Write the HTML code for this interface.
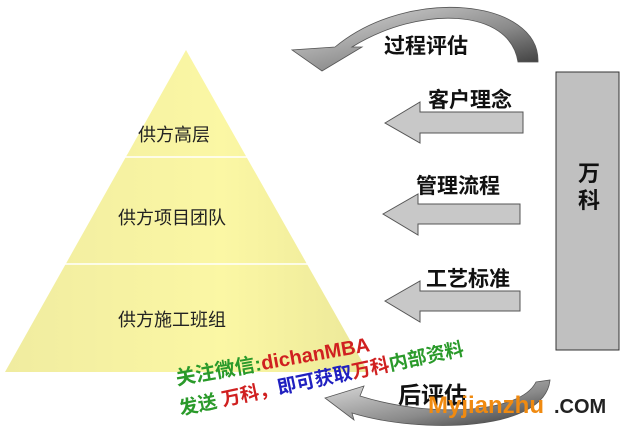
<!DOCTYPE html>
<html><head><meta charset="utf-8"><style>
body{margin:0;width:622px;height:428px;background:#fff;overflow:hidden;position:relative;font-family:"Liberation Sans","Noto Sans CJK SC",sans-serif}
.t{position:absolute;white-space:nowrap}
</style></head><body>
<svg width="622" height="428" style="position:absolute;left:0;top:0">
<defs>
<linearGradient id="py" x1="0" x2="1" y1="0" y2="0"><stop offset="0" stop-color="#f0eca0"/><stop offset="0.6" stop-color="#fbf7a4"/><stop offset="1" stop-color="#ece899"/></linearGradient>
<linearGradient id="ga" x1="0" x2="1" y1="0" y2="1"><stop offset="0" stop-color="#e0e0e0"/><stop offset="0.6" stop-color="#8a8a8a"/><stop offset="1" stop-color="#333"/></linearGradient>
</defs>
<polygon points="186,50 5,372 368,372" fill="url(#py)"/>
<line x1="125" y1="157" x2="247" y2="157" stroke="#fff" stroke-width="1.5"/>
<line x1="64" y1="264" x2="308" y2="264" stroke="#fff" stroke-width="1.5"/>
<rect x="556" y="72" width="63" height="278" fill="#c0c0c0" stroke="#333" stroke-width="1"/>
<g fill="#c8c8c8" stroke="#555" stroke-width="1">
<polygon points="385,123 420,102 420,112 523,112 523,133 420,133 420,143"/>
<polygon points="383,214 418,194 418,204 520,204 520,224 418,224 418,235"/>
<polygon points="385,301 420,281 420,291 520,291 520,311 420,311 420,322"/>
</g>
<path d="M538,62 C540,0 410,-15 335,47 L292,50 L322,71 L362,47 L352,47 C420,5 510,8 518,62 Z" fill="url(#ga)" stroke="#555" stroke-width="0.8"/>
<path d="M550,380 C545,432 420,434 352,413 L354,420 L325,398 L364,386 L360,396 C430,418 520,414 536,382 Z" fill="url(#ga)" stroke="#555" stroke-width="0.8"/>
</svg>
<div class="t" style="left:138px;top:121px;font-size:18px;color:#222">供方高层</div>
<div class="t" style="left:118px;top:204px;font-size:18px;color:#222">供方项目团队</div>
<div class="t" style="left:118px;top:306px;font-size:18px;color:#222">供方施工班组</div>
<div class="t" style="left:384px;top:30px;font-size:21px;font-weight:bold;color:#111">过程评估</div>
<div class="t" style="left:428px;top:84px;font-size:21px;font-weight:bold;color:#111">客户理念</div>
<div class="t" style="left:416px;top:170px;font-size:21px;font-weight:bold;color:#111">管理流程</div>
<div class="t" style="left:426px;top:263px;font-size:21px;font-weight:bold;color:#111">工艺标准</div>
<div class="t" style="left:578px;top:160px;font-size:22px;font-weight:bold;color:#111;line-height:27px;width:30px">万<br>科</div>
<div class="t" style="left:398px;top:376px;font-size:23px;font-weight:bold;color:#111">后评估</div>
<div class="t" style="left:178px;top:362px;font-size:20px;font-weight:bold;color:#2a9a2a;transform:rotate(-10deg);transform-origin:left bottom">关注微信:<span style="color:#d02020">dichanMBA</span></div>
<div class="t" style="left:182px;top:394px;font-size:19px;font-weight:bold;color:#2a9a2a;transform:rotate(-12deg);transform-origin:left bottom">发送 <span style="color:#d02020">万科</span><span style="color:#d02020">，</span><span style="color:#2020c0">即可获取</span><span style="color:#d02020">万科</span>内部资料</div>
<div class="t" style="left:428px;top:392px;font-size:24px;font-weight:bold;color:#f08a10">Myjianzhu</div>
<div class="t" style="left:554px;top:396px;font-size:20px;font-weight:bold;color:#222">.COM</div>
</body></html>
